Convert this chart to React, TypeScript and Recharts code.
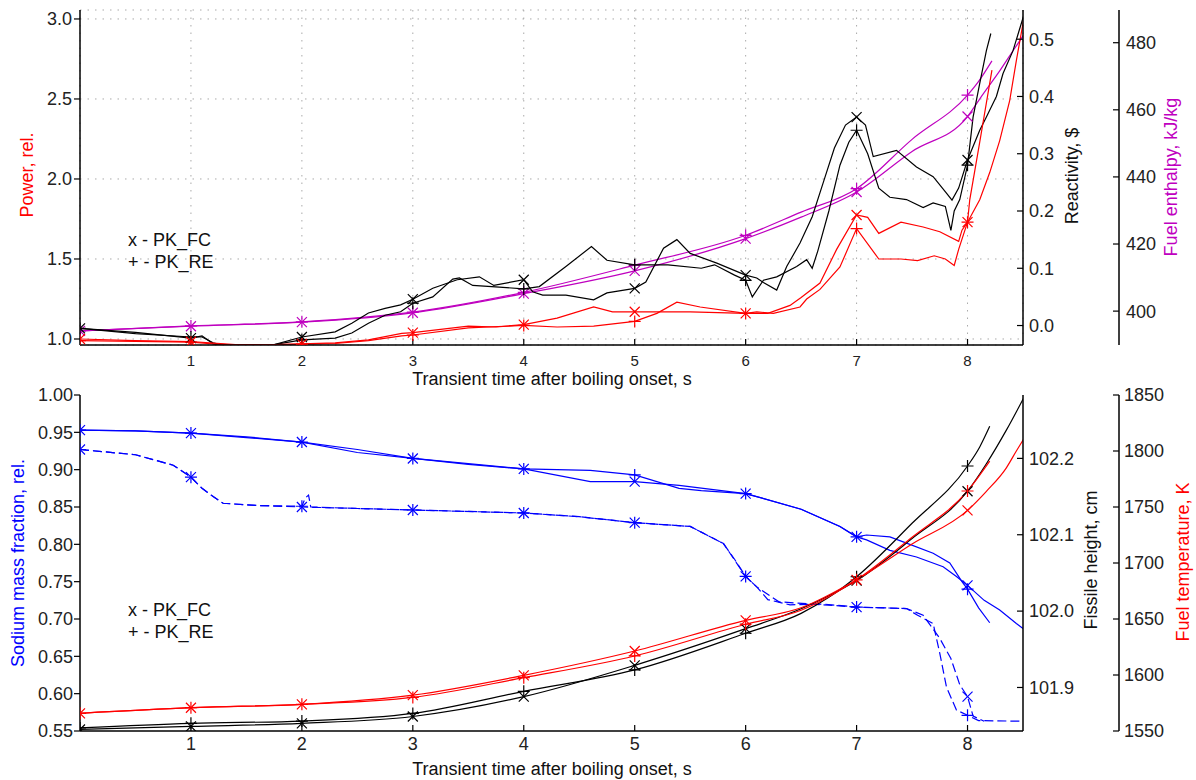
import { ComposedChart, Line, XAxis, YAxis, CartesianGrid } from 'recharts'

const FONT = '"Liberation Sans", Arial, sans-serif'
const RED = '#ff0000'
const BLACK = '#000000'
const MAGENTA = '#bf00bf'
const BLUE = '#0000ff'

const timeTicks = [1, 2, 3, 4, 5, 6, 7, 8]
const powerTicks = [1.0, 1.5, 2.0, 2.5, 3.0]
const reactivityTicks = [0, 0.1, 0.2, 0.3, 0.4, 0.5]
const enthalpyTicks = [400, 420, 440, 460, 480]
const sodiumTicks = [0.55, 0.6, 0.65, 0.7, 0.75, 0.8, 0.85, 0.9, 0.95, 1.0]
const heightTicks = [101.9, 102.0, 102.1, 102.2]
const tempTicks = [1550, 1600, 1650, 1700, 1750, 1800, 1850]

// [time after boiling onset (s), value]
const powerFC = [
  [0, 1.0], [0.5, 0.99], [1, 0.983], [1.2, 0.975], [1.4, 0.965], [1.7, 0.964], [2, 0.97], [2.3, 0.976],
  [2.6, 0.995], [2.9, 1.035], [3, 1.04], [3.5, 1.08], [3.75, 1.075], [4, 1.09], [4.3, 1.13], [4.63, 1.2],
  [4.8, 1.17], [5, 1.17], [5.5, 1.17], [6, 1.16], [6.2, 1.16], [6.4, 1.21], [6.5, 1.26], [6.67, 1.35],
  [6.82, 1.56], [7, 1.775], [7.1, 1.76], [7.2, 1.66], [7.4, 1.73], [7.6, 1.7], [7.75, 1.67], [7.92, 1.61],
  [7.95, 1.68], [8, 1.73], [8.11, 1.87], [8.2, 2.04], [8.29, 2.24], [8.38, 2.49], [8.44, 2.74], [8.52, 3.05],
]
const powerRE = [
  [0, 0.99], [0.5, 0.985], [1, 0.98], [1.2, 0.97], [1.4, 0.962], [1.7, 0.963], [2, 0.968], [2.3, 0.972],
  [2.6, 0.99], [2.9, 1.02], [3, 1.025], [3.5, 1.07], [4, 1.085], [4.3, 1.075], [4.63, 1.08], [5, 1.11],
  [5.2, 1.16], [5.38, 1.23], [5.59, 1.2], [6, 1.16], [6.1, 1.17], [6.25, 1.16], [6.49, 1.2], [6.55, 1.25],
  [6.67, 1.31], [6.85, 1.45], [7, 1.69], [7.2, 1.5], [7.4, 1.5], [7.55, 1.49], [7.7, 1.52], [7.8, 1.5],
  [7.88, 1.46], [7.92, 1.56], [8, 1.73], [8.02, 1.87], [8.11, 2.23], [8.22, 2.68],
]
const reactivityFC = [
  [0, -0.005], [0.5, -0.012], [1, -0.022], [1.1, -0.018], [1.2, -0.032], [1.3, -0.036], [1.7, -0.036],
  [2, -0.02], [2.3, -0.011], [2.45, 0.004], [2.6, 0.022], [2.75, 0.03], [2.89, 0.036], [3, 0.046],
  [3.18, 0.065], [3.4, 0.08], [3.6, 0.085], [3.73, 0.07], [4, 0.08], [4.08, 0.059], [4.17, 0.053],
  [4.38, 0.053], [4.63, 0.045], [4.75, 0.057], [5, 0.065], [5.1, 0.076], [5.26, 0.135], [5.38, 0.15],
  [5.5, 0.126], [5.74, 0.109], [6, 0.088], [6.1, 0.083], [6.16, 0.075], [6.28, 0.062], [6.37, 0.103],
  [6.49, 0.144], [6.6, 0.19], [6.7, 0.25], [6.8, 0.31], [6.9, 0.35], [7, 0.364], [7.08, 0.35],
  [7.15, 0.295], [7.36, 0.306], [7.54, 0.277], [7.69, 0.26], [7.81, 0.231], [7.86, 0.219], [7.92, 0.24],
  [8, 0.289], [8.11, 0.341], [8.17, 0.364], [8.26, 0.4], [8.32, 0.44], [8.41, 0.48], [8.52, 0.55],
]
const reactivityRE = [
  [0, -0.005], [0.5, -0.014], [1, -0.02], [1.1, -0.02], [1.2, -0.03], [1.3, -0.035], [1.7, -0.035],
  [2, -0.025], [2.3, -0.022], [2.45, -0.013], [2.6, 0.004], [2.75, 0.018], [2.89, 0.024], [3, 0.039],
  [3.18, 0.05], [3.36, 0.081], [3.42, 0.083], [3.54, 0.07], [3.78, 0.067], [4, 0.064], [4.14, 0.068],
  [4.38, 0.103], [4.61, 0.138], [4.75, 0.114], [5, 0.106], [5.3, 0.106], [5.6, 0.1], [5.72, 0.106],
  [5.9, 0.088], [6, 0.079], [6.06, 0.05], [6.16, 0.079], [6.28, 0.085], [6.46, 0.103], [6.55, 0.115],
  [6.6, 0.1], [6.65, 0.13], [6.75, 0.2], [6.85, 0.28], [6.93, 0.32], [7, 0.341], [7.1, 0.3], [7.2, 0.24],
  [7.3, 0.224], [7.45, 0.22], [7.6, 0.206], [7.69, 0.214], [7.8, 0.208], [7.85, 0.166], [7.88, 0.2],
  [7.93, 0.22], [8, 0.28], [8.05, 0.364], [8.11, 0.423], [8.17, 0.48], [8.21, 0.51],
]
const enthalpyFC = [
  [0, 394.1], [1, 395.5], [2, 396.7], [3, 399.5], [4, 405.2], [5, 412], [6, 421.6], [6.5, 428],
  [7, 435.5], [7.5, 447.6], [8, 458], [8.14, 464.7], [8.29, 471.6], [8.41, 477.6], [8.52, 483],
]
const enthalpyRE = [
  [0, 394.1], [1, 395.6], [2, 396.8], [3, 399.7], [4, 405.6], [5, 413.7], [6, 422.6], [6.5, 429.5],
  [7, 436.5], [7.5, 451.2], [8, 464.4], [8.1, 468.5], [8.22, 474.6],
]

const sodiumFC = [
  [0, 0.953], [0.5, 0.952], [1, 0.949], [1.5, 0.944], [2, 0.937], [2.5, 0.927], [3, 0.915], [3.5, 0.908],
  [4, 0.901], [4.6, 0.884], [5, 0.884], [5.4, 0.879], [6, 0.868], [6.5, 0.847], [6.85, 0.824], [7, 0.81],
  [7.09, 0.806], [7.3, 0.792], [7.54, 0.783], [7.78, 0.77], [7.9, 0.757], [8, 0.745], [8.15, 0.725],
  [8.29, 0.712], [8.44, 0.694], [8.52, 0.685],
]
const sodiumRE = [
  [0, 0.953], [0.5, 0.952], [1, 0.949], [1.5, 0.943], [2, 0.937], [2.5, 0.923], [3, 0.915], [3.5, 0.907],
  [4, 0.901], [4.6, 0.899], [5, 0.893], [5.4, 0.875], [5.6, 0.872], [6, 0.868], [6.5, 0.847],
  [6.85, 0.824], [7, 0.81], [7.09, 0.8125], [7.3, 0.81], [7.48, 0.8], [7.69, 0.788], [7.84, 0.775],
  [7.95, 0.75], [8, 0.74], [8.1, 0.715], [8.2, 0.695],
]
const sodiumDashFC = [
  [0, 0.927], [0.5, 0.92], [0.84, 0.906], [1, 0.89], [1.1, 0.875], [1.2, 0.864], [1.29, 0.855],
  [1.6, 0.852], [2, 0.85], [2.5, 0.848], [3, 0.846], [4, 0.842], [4.5, 0.837], [5, 0.829], [5.5, 0.824],
  [5.8, 0.801], [5.9, 0.78], [6, 0.757], [6.1, 0.743], [6.2, 0.726], [6.4, 0.719], [6.7, 0.72], [7, 0.716],
  [7.45, 0.714], [7.6, 0.705], [7.75, 0.674], [7.85, 0.647], [7.93, 0.612], [8, 0.596], [8.05, 0.57],
  [8.15, 0.563],
]
const sodiumDashRE = [
  [0, 0.927], [0.5, 0.92], [0.84, 0.906], [1, 0.89], [1.1, 0.875], [1.2, 0.864], [1.29, 0.855],
  [1.6, 0.852], [2, 0.851], [2.03, 0.862], [2.06, 0.866], [2.08, 0.85], [2.5, 0.848], [3, 0.846],
  [4, 0.842], [4.5, 0.837], [5, 0.829], [5.5, 0.824], [5.8, 0.801], [6, 0.757], [6.1, 0.743], [6.3, 0.723],
  [6.6, 0.72], [7, 0.716], [7.45, 0.714], [7.55, 0.705], [7.69, 0.694], [7.75, 0.654], [7.81, 0.609],
  [7.9, 0.578], [8, 0.571], [8.1, 0.564], [8.52, 0.563],
]
const heightFC = [
  [0, 101.845], [1, 101.849], [2, 101.853], [3, 101.862], [4, 101.888], [5, 101.929], [6, 101.977],
  [6.5, 102.003], [6.75, 102.02], [7, 102.04], [7.5, 102.095], [8, 102.157], [8.17, 102.193],
  [8.35, 102.237], [8.52, 102.283],
]
const heightRE = [
  [0, 101.847], [1, 101.853], [2, 101.856], [3, 101.866], [4, 101.895], [5, 101.923], [6, 101.971],
  [6.5, 101.997], [6.75, 102.018], [7, 102.045], [7.5, 102.115], [8, 102.19], [8.11, 102.215], [8.2, 102.242],
]
const tempFC = [
  [0, 1565.8], [1, 1570.8], [2, 1573.8], [3, 1582], [4, 1599.7], [5, 1621.4], [6, 1648.8], [6.5, 1660],
  [7, 1685], [7.5, 1717], [8, 1747], [8.17, 1764], [8.35, 1785], [8.44, 1800], [8.52, 1813],
]
const tempRE = [
  [0, 1565.8], [1, 1570.8], [2, 1573.8], [3, 1580], [4, 1597.6], [5, 1617], [6, 1645.3], [6.5, 1657.8],
  [7, 1685], [7.5, 1723], [8, 1764.3], [8.2, 1791],
]

const pts = (a: number[][]) => a.map(([t, v]) => ({ t, v }))

// x / + markers at whole seconds, like the original plot
function marker(kind: 'x' | '+', color: string) {
  return (p: any) => {
    const { cx, cy, payload, index } = p
    const key = p.key ?? `m${index}`
    if (cx == null || cy == null || !Number.isInteger(payload?.t)) return <g key={key} />
    const s = 5
    const d =
      kind === 'x'
        ? `M${cx - s},${cy - s}L${cx + s},${cy + s}M${cx - s},${cy + s}L${cx + s},${cy - s}`
        : `M${cx - 6},${cy}L${cx + 6},${cy}M${cx},${cy - 6}L${cx},${cy + 6}`
    return <path key={key} d={d} stroke={color} strokeWidth={1.2} fill="none" />
  }
}

function series(
  id: string,
  data: number[][],
  color: string,
  kind: 'x' | '+',
  smooth = false,
  dashed = false,
) {
  return (
    <Line
      key={id}
      xAxisId="b"
      yAxisId={id.split('-')[0]}
      data={pts(data)}
      dataKey="v"
      type={smooth ? 'monotone' : 'linear'}
      stroke={color}
      strokeWidth={1.2}
      strokeDasharray={dashed ? '9 4' : undefined}
      dot={marker(kind, color)}
      activeDot={false}
      isAnimationActive={false}
    />
  )
}

const axisLine = { stroke: '#000', strokeWidth: 1.5 }
const tickLine = { stroke: '#000', strokeWidth: 1.2 }
const tickFont = { fontSize: 18, fill: '#222', fontFamily: FONT }

// right axes are stacked by id order, so ids are picked to put reactivity / height next to the plot
function TopPanel() {
  return (
    <ComposedChart width={1196} height={400} margin={{ top: 10, right: 0, bottom: 5, left: 0 }}>
      <CartesianGrid xAxisId="b" yAxisId="p" stroke="#aaa" strokeDasharray="1.5 6" />
      <XAxis xAxisId="b" dataKey="t" type="number" domain={[0, 8.5]} allowDataOverflow ticks={timeTicks}
        interval={0} height={50} axisLine={axisLine} tickLine={tickLine} tickSize={-6} tickMargin={16}
        tick={{ ...tickFont, fontSize: 15 }} />
      <XAxis xAxisId="t" orientation="top" dataKey="t" type="number" domain={[0, 8.5]} allowDataOverflow
        ticks={timeTicks} interval={0} height={0} axisLine={axisLine} tickLine={tickLine} tickSize={-6} tick={false} />
      <YAxis yAxisId="p" orientation="left" width={80} type="number" domain={[0.9625, 3.056]} allowDataOverflow
        ticks={powerTicks} interval={0} tickFormatter={(v: number) => v.toFixed(1)} axisLine={axisLine}
        tickLine={tickLine} tickSize={6} tickMargin={2} tick={tickFont} />
      <YAxis yAxisId="q" orientation="right" width={96} type="number" domain={[-0.034, 0.551]} allowDataOverflow
        ticks={reactivityTicks} interval={0} tickFormatter={(v: number) => v.toFixed(1)} axisLine={axisLine}
        tickLine={tickLine} tickSize={-6} tickMargin={12} tick={tickFont} />
      <YAxis yAxisId="w" orientation="right" width={77} type="number" domain={[389.9, 489.75]} allowDataOverflow
        ticks={enthalpyTicks} interval={0} axisLine={axisLine} tickLine={tickLine} tickSize={-6} tickMargin={13}
        tick={tickFont} />
      {series('w-fc', enthalpyFC, MAGENTA, 'x', true)}
      {series('w-re', enthalpyRE, MAGENTA, '+', true)}
      {series('q-fc', reactivityFC, BLACK, 'x')}
      {series('q-re', reactivityRE, BLACK, '+')}
      {series('p-fc', powerFC, RED, 'x')}
      {series('p-re', powerRE, RED, '+')}
    </ComposedChart>
  )
}

function BottomPanel() {
  return (
    <ComposedChart width={1196} height={400} margin={{ top: 15, right: 0, bottom: 0, left: 0 }}>
      <XAxis xAxisId="b" dataKey="t" type="number" domain={[0, 8.5]} allowDataOverflow ticks={timeTicks}
        interval={0} height={49} axisLine={axisLine} tickLine={tickLine} tickSize={-6} tickMargin={12}
        tick={tickFont} />
      <XAxis xAxisId="t" orientation="top" dataKey="t" type="number" domain={[0, 8.5]} allowDataOverflow
        ticks={timeTicks} interval={0} height={0} axisLine={axisLine} tickLine={tickLine} tickSize={-6} tick={false} />
      <YAxis yAxisId="s" orientation="left" width={80} type="number" domain={[0.55, 1.0]} allowDataOverflow
        ticks={sodiumTicks} interval={0} tickFormatter={(v: number) => v.toFixed(2)} axisLine={axisLine}
        tickLine={tickLine} tickSize={6} tickMargin={1} tick={tickFont} />
      <YAxis yAxisId="f" orientation="right" width={96} type="number" domain={[101.843, 102.283]} allowDataOverflow
        ticks={heightTicks} interval={0} tickFormatter={(v: number) => v.toFixed(1)} axisLine={axisLine}
        tickLine={tickLine} tickSize={-6} tickMargin={12} tick={tickFont} />
      <YAxis yAxisId="k" orientation="right" width={77} type="number" domain={[1550, 1850]} allowDataOverflow
        ticks={tempTicks} interval={0} axisLine={axisLine} tickLine={tickLine} tickSize={-6} tickMargin={11}
        tick={tickFont} />
      {series('s-dfc', sodiumDashFC, BLUE, 'x', false, true)}
      {series('s-dre', sodiumDashRE, BLUE, '+', false, true)}
      {series('s-fc', sodiumFC, BLUE, 'x')}
      {series('s-re', sodiumRE, BLUE, '+')}
      {series('f-fc', heightFC, BLACK, 'x', true)}
      {series('f-re', heightRE, BLACK, '+', true)}
      {series('k-fc', tempFC, RED, 'x', true)}
      {series('k-re', tempRE, RED, '+', true)}
    </ComposedChart>
  )
}

function VTitle({ x, y, color, text }: { x: number; y: number; color: string; text: string }) {
  return (
    <text x={x} y={y} transform={`rotate(-90 ${x} ${y})`} textAnchor="middle" fill={color} fontSize={18}>
      {text}
    </text>
  )
}

export default function App() {
  const xTitle = 'Transient time after boiling onset, s'
  return (
    <div style={{ position: 'absolute', left: 0, top: 0, width: 1196, height: 780, background: '#fff', fontFamily: FONT }}>
      <div style={{ position: 'absolute', left: 0, top: 0 }}>
        <TopPanel />
      </div>
      <div style={{ position: 'absolute', left: 0, top: 380 }}>
        <BottomPanel />
      </div>
      <svg width={1196} height={780} style={{ position: 'absolute', left: 0, top: 0, pointerEvents: 'none', fontFamily: FONT }}>
        <VTitle x={33} y={175} color={RED} text="Power, rel." />
        <VTitle x={1078} y={176} color="#111" text="Reactivity, $" />
        <VTitle x={1177} y={177} color={MAGENTA} text="Fuel enthalpy, kJ/kg" />
        <text x={552} y={385} textAnchor="middle" fontSize={18} fill="#111">{xTitle}</text>
        <text x={128} y={246} fontSize={18} fill="#111">x - PK_FC</text>
        <text x={128} y={268} fontSize={18} fill="#111">+ - PK_RE</text>

        <VTitle x={23.5} y={563} color={BLUE} text="Sodium mass fraction, rel." />
        <VTitle x={1097} y={560} color="#111" text="Fissile height, cm" />
        <VTitle x={1189} y={562} color={RED} text="Fuel temperature, K" />
        <text x={552} y={775} textAnchor="middle" fontSize={18} fill="#111">{xTitle}</text>
        <text x={128} y={616} fontSize={18} fill="#111">x - PK_FC</text>
        <text x={128} y={638} fontSize={18} fill="#111">+ - PK_RE</text>
      </svg>
    </div>
  )
}
